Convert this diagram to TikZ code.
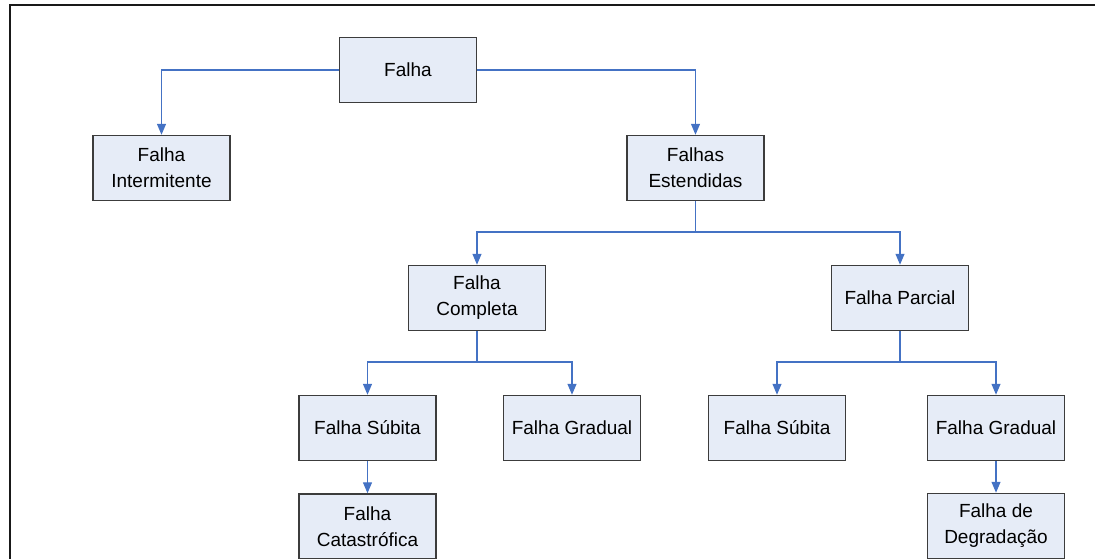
\documentclass[tikz,border=0pt]{standalone}
\usepackage{fontspec}
\setmainfont{Liberation Sans}
\usetikzlibrary{arrows.meta}
\definecolor{linkblue}{RGB}{68,114,196}
\definecolor{boxfill}{RGB}{230,236,247}
\definecolor{boxedge}{RGB}{60,60,60}

\begin{document}
\begin{tikzpicture}[x=1pt,y=-1pt,
  box/.style={draw=boxedge, line width=1.5pt, fill=boxfill,
    minimum width=137pt, minimum height=65pt, inner sep=0pt,
    align=center, font=\fontsize{19}{26}\selectfont},
  link/.style={draw=linkblue, line width=1.3pt,
    -{Triangle[length=11pt,width=9pt]}},
  joint/.style={draw=linkblue, line width=1.3pt},
]
\useasboundingbox (0,0) rectangle (1095,558);
\clip (0,0) rectangle (1095,558);

% outer frame
\draw[line width=2.2pt, black!90] (10,600) -- (10,5) -- (1110,5);

% nodes
\node[box] (root)  at (408,70)    {Falha};
\node[box] (inter) at (161.5,168) {Falha\\Intermitente};
\node[box] (ext)   at (695.5,168) {Falhas\\Estendidas};
\node[box] (comp)  at (477,298)   {Falha\\Completa};
\node[box] (parc)  at (900,298)   {Falha Parcial};
\node[box] (sub1)  at (367.5,428) {Falha Súbita};
\node[box] (grad1) at (572,428)   {Falha Gradual};
\node[box] (sub2)  at (777,428)   {Falha Súbita};
\node[box] (grad2) at (996,428)   {Falha Gradual};
\node[box] (cat)   at (367.5,526.5) {Falha\\Catastrófica};
\node[box] (deg)   at (996,526)   {Falha de\\Degradação};

% branch points
\coordinate (extj)  at (695.5,232);
\coordinate (compj) at (477,362);
\coordinate (parcj) at (900,362);

% connectors
\draw[link] (root.west) -| (inter.north);
\draw[link] (root.east) -| (ext.north);

\draw[joint] (ext.south) -- (extj);
\draw[link] (extj) -| (comp.north);
\draw[link] (extj) -| (parc.north);

\draw[joint] (comp.south) -- (compj);
\draw[link] (compj) -| (sub1.north);
\draw[link] (compj) -| (grad1.north);

\draw[joint] (parc.south) -- (parcj);
\draw[link] (parcj) -| (sub2.north);
\draw[link] (parcj) -| (grad2.north);

\draw[link] (sub1.south) -- (cat.north);
\draw[link] (grad2.south) -- (deg.north);
\end{tikzpicture}
\end{document}
